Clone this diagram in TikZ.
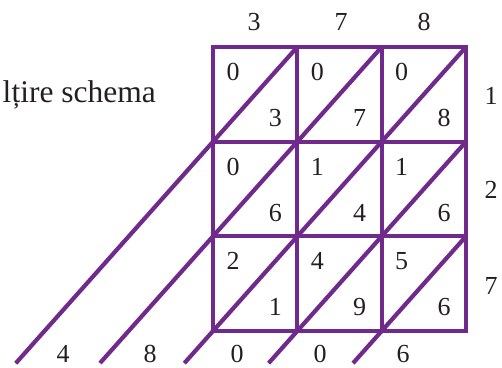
\documentclass[tikz,border=0pt]{standalone}
\usepackage{fontspec}
\setmainfont{Liberation Serif}
\usetikzlibrary{calc}
\definecolor{lattice}{RGB}{112,42,140}
\definecolor{ink}{RGB}{35,31,32}

\begin{document}
\begin{tikzpicture}[x=1pt, y=-1pt,
  grid/.style={draw=lattice, line width=4.2pt},
  dig/.style={font=\fontsize{26}{30}\selectfont, text=ink, inner sep=0pt}]
\useasboundingbox (0,0) rectangle (502,367);
\foreach \c/\x in {0/213, 1/297.3, 2/381.7, 3/466}
  \foreach \r/\y in {0/47, 1/141.7, 2/236.3, 3/331}
    \coordinate (g-\c-\r) at (\x,\y);
\coordinate (e-1) at ($(g-0-1)!-2.34!(g-1-0)$);
\coordinate (e-2) at ($(g-0-2)!-1.34!(g-1-1)$);
\coordinate (e-3) at ($(g-0-3)!-0.34!(g-1-2)$);
\coordinate (e-4) at ($(g-1-3)!-0.34!(g-2-2)$);
\coordinate (e-5) at ($(g-2-3)!-0.34!(g-3-2)$);
\draw[grid] (g-0-0) rectangle (g-3-3);
\foreach \k in {1,2} {
  \draw[grid] (g-0-\k) -- (g-3-\k);
  \draw[grid] (g-\k-0) -- (g-\k-3);
}
\draw[grid] (g-1-0) -- (e-1);
\draw[grid] (g-2-0) -- (e-2);
\draw[grid] (g-3-0) -- (e-3);
\draw[grid] (g-3-1) -- (e-4);
\draw[grid] (g-3-2) -- (e-5);
\foreach \c/\r/\t/\b in {0/0/0/3, 1/0/0/7, 2/0/0/8,
                         0/1/0/6, 1/1/1/4, 2/1/1/6,
                         0/2/2/1, 1/2/4/9, 2/2/5/6} {
  \node[dig] (t-\c-\r) at ($(g-\c-\r)+(20,25)$) {\t};
  \node[dig] (b-\c-\r) at ($(g-\c-\r)+(62.3,71)$) {\b};
}
\node[dig] (top-0) at (254,22) {3};
\node[dig] (top-1) at (341,22) {7};
\node[dig] (top-2) at (424,22) {8};
\node[dig] (side-0) at (491,96) {1};
\node[dig] (side-1) at (491,190) {2};
\node[dig] (side-2) at (491,286) {7};
\node[dig] (res-0) at (63,354) {4};
\node[dig] (res-1) at (150,354) {8};
\node[dig] (res-2) at (237,354) {0};
\node[dig] (res-3) at (320,354) {0};
\node[dig] (res-4) at (403,354) {6};
\node[dig, font=\fontsize{31.5}{36}\selectfont, anchor=base east] (title) at (156,102) {lțire schema};
\end{tikzpicture}
\end{document}
